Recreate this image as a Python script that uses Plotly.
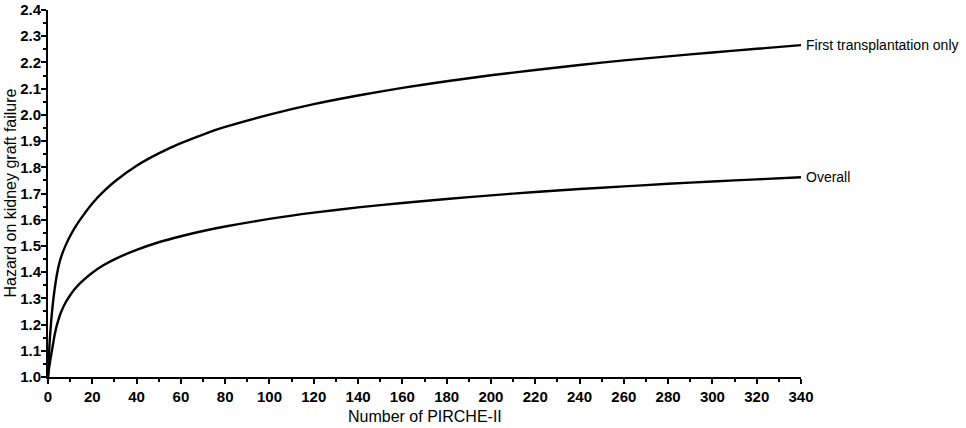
import plotly.graph_objects as go

# Data
pirche = [0, 0.5, 1, 2, 3, 4, 5, 6, 8, 10, 12, 15, 20, 25, 30, 40, 50, 60, 70, 80,
          100, 120, 140, 160, 180, 200, 220, 240, 260, 280, 300, 320, 340]
first_tx = [1.000, 1.095, 1.165, 1.265, 1.335, 1.390, 1.430, 1.460, 1.503, 1.538,
            1.568, 1.606, 1.662, 1.707, 1.745, 1.806, 1.853, 1.892, 1.925, 1.954,
            2.001, 2.041, 2.074, 2.103, 2.128, 2.151, 2.171, 2.190, 2.208, 2.223,
            2.238, 2.252, 2.266]
overall = [1.000, 1.035, 1.062, 1.112, 1.160, 1.198, 1.226, 1.250, 1.285, 1.312,
           1.335, 1.362, 1.398, 1.426, 1.449, 1.485, 1.514, 1.537, 1.557, 1.574,
           1.603, 1.627, 1.647, 1.664, 1.679, 1.693, 1.706, 1.717, 1.727, 1.737,
           1.746, 1.754, 1.762]
series_names = ["First transplantation only", "Overall"]
x_ticks = list(range(0, 341, 20))
y_ticks = [round(1.0 + 0.1 * i, 1) for i in range(15)]

FONT = "Arial, Liberation Sans, sans-serif"

fig = go.Figure()
for name, vals in zip(series_names, [first_tx, overall]):
    fig.add_trace(go.Scatter(x=pirche, y=vals, mode="lines", name=name,
                             line=dict(color="black", width=2.4, shape="spline", smoothing=0.7),
                             hoverinfo="x+y+name"))
    fig.add_annotation(x=pirche[-1], y=vals[-1], text=name, showarrow=False,
                       xanchor="left", yanchor="middle", xshift=3,
                       font=dict(family=FONT, size=14, color="black"))

# Axis titles
fig.add_annotation(xref="paper", yref="paper", x=0.5, y=0, yshift=-39,
                   text="Number of PIRCHE-II", showarrow=False,
                   xanchor="center", yanchor="middle",
                   font=dict(family=FONT, size=16, color="black"))
fig.add_annotation(xref="paper", yref="paper", x=0, y=0.5, xshift=-38,
                   text="Hazard on kidney graft failure", showarrow=False, textangle=-90,
                   xanchor="center", yanchor="middle",
                   font=dict(family=FONT, size=16, color="black"))

fig.update_layout(
    width=966, height=428,
    margin=dict(l=48, r=165, t=10, b=51),
    paper_bgcolor="white", plot_bgcolor="white",
    showlegend=False,
    font=dict(family=FONT, color="black"),
)
fig.update_xaxes(
    range=[0, 340], tickvals=x_ticks, ticktext=[f"<b>{v}</b>" for v in x_ticks],
    showline=True, linecolor="black", linewidth=2, showgrid=False, zeroline=False,
    ticks="outside", ticklen=5, tickwidth=2, tickcolor="black",
    minor=dict(dtick=10, ticks="outside", ticklen=3, tickwidth=1.5, tickcolor="black"),
    tickfont=dict(family=FONT, size=15, color="black"), automargin=False,
)
fig.update_yaxes(
    range=[1.0, 2.4], tickvals=y_ticks, ticktext=[f"<b>{v:.1f}</b>" for v in y_ticks],
    showline=True, linecolor="black", linewidth=2, showgrid=False, zeroline=False,
    ticks="outside", ticklen=5, tickwidth=2, tickcolor="black",
    minor=dict(dtick=0.05, ticks="outside", ticklen=3, tickwidth=1.5, tickcolor="black"),
    tickfont=dict(family=FONT, size=15, color="black"), automargin=False,
    ticklabelstandoff=-3,
)

fig.write_html("out.html", config={"displayModeBar": False},
               post_script="document.body.style.margin='0px';document.body.style.padding='0px';")
